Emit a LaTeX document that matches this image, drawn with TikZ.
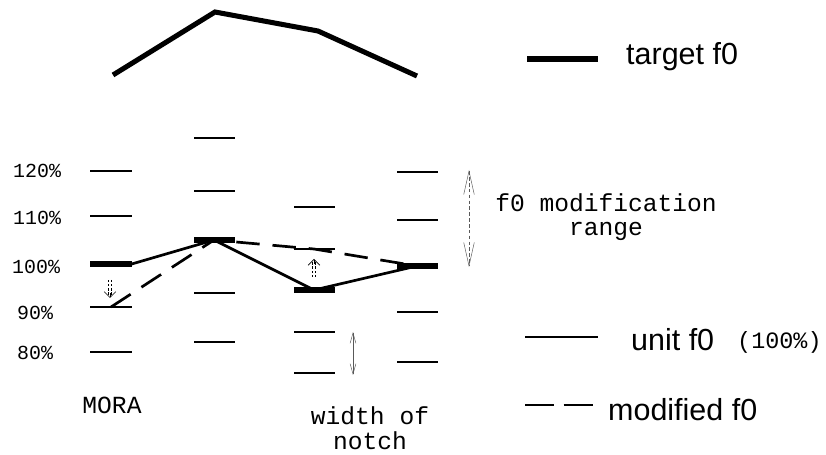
\documentclass[tikz,border=0pt]{standalone}
\usepackage{fontspec}
\setmainfont{Liberation Sans}
\setmonofont{Liberation Mono}
\usetikzlibrary{arrows.meta}

\begin{document}
\begin{tikzpicture}[x=0.03cm, y=-0.03cm,
    bar/.style={fill=black, inner sep=0pt, minimum width=1.23cm, minimum height=2.2pt},
    basebar/.style={bar, minimum height=4.6pt},
    target/.style={line width=4.3pt},
    unitline/.style={line width=2.3pt},
    modline/.style={line width=2.3pt, dash pattern=on 20pt off 11pt},
    pct/.style={font=\fontsize{17}{20}\ttfamily, anchor=west, inner sep=0pt},
    note/.style={font=\fontsize{21}{21}\ttfamily, align=center, inner sep=0pt},
    key/.style={font=\fontsize{26}{30}\selectfont, anchor=west, inner sep=0pt},
    span/.style={thin, gray!70!black, {Straight Barb[length=9pt,width=5pt]}-{Straight Barb[length=9pt,width=5pt]}},
    nudge/.style={line width=0.45pt, double, double distance=2.2pt, dash pattern=on 2pt off 1.5pt, shorten >=2pt},
    nudgetip/.style={line width=0.6pt, shorten <=11pt, -{Straight Barb[length=5pt,width=10pt]}}]
    \useasboundingbox (0,0) rectangle (826,455);

    % target contour
    \draw[target] (113,75) -- (215,12) -- (318,31) -- (417,76);

    % level bars of each mora: 120 110 100 90 80
    \foreach \c/\x/\ya/\yb/\yc/\yd/\ye in {1/111/171/216/264/307/352, 2/214/138/191/240/293/342,
        3/314/207/249/290/332/373, 4/417/172/220/266/312/362}{
        \node[bar] (m\c-120) at (\x,\ya) {};
        \node[bar] (m\c-110) at (\x,\yb) {};
        \node[basebar] (m\c-100) at (\x,\yc) {};
        \node[bar] (m\c-90) at (\x,\yd) {};
        \node[bar] (m\c-80) at (\x,\ye) {};
    }

    % unit and modified contours
    \draw[unitline] (m1-100.east) -- (m2-100.center) -- (m3-100.center) -- (m4-100.center);
    \draw[modline] (m1-90.center) -- (m2-100.center) -- (m3-110.center) -- (m4-100.center);

    % percent scale
    \node[pct] (p120) at (13,171) {120\%};
    \node[pct] (p110) at (13,218) {110\%};
    \node[pct] (p100) at (12,267) {100\%};
    \node[pct] (p90) at (17,313) {90\%};
    \node[pct] (p80) at (17,353) {80\%};

    % small shift arrows
    \coordinate (d1) at (110,280);
    \coordinate (d2) at (110,298);
    \draw[nudge] (d1) -- (d2);
    \draw[nudgetip] (d1) -- (d2);
    \coordinate (u1) at (314,277);
    \coordinate (u2) at (314,259);
    \draw[nudge] (u1) -- (u2);
    \draw[nudgetip] (u1) -- (u2);

    % modification range
    \coordinate (rtop) at (469,170);
    \coordinate (rbot) at (469,267);
    \draw[span, densely dashed, {Straight Barb[length=20pt,width=9pt]}-{Straight Barb[length=20pt,width=9pt]}] (rtop) -- (rbot);
    \node[note] (range) at (606,217) {f0 modification\\range};

    % notch width
    \coordinate (ntop) at (353,332);
    \coordinate (nbot) at (353,375);
    \draw[span] (ntop) -- (nbot);

    \node[note] (mora) at (112,405) {MORA};
    \node[note] (notch) at (370,428) {width of\\notch};

    % legend
    \coordinate (k1a) at (527,59);
    \coordinate (k1b) at (598,59);
    \draw[target] (k1a) -- (k1b);
    \node[key] (ktarget) at (626,57) {target f0};

    \coordinate (k2a) at (525,337);
    \coordinate (k2b) at (598,337);
    \draw[line width=1.8pt] (k2a) -- (k2b);
    \node[key] (kunit) at (631,340) {unit f0};
    \node[note, anchor=west, font=\fontsize{20}{24}\ttfamily] (kpct) at (737,342) {(100\%)};

    \coordinate (k3a) at (525,405);
    \coordinate (k3b) at (597,405);
    \draw[line width=1.8pt, dash pattern=on 25pt off 8pt] (k3a) -- (k3b);
    \node[key] (kmod) at (608,410) {modified f0};
\end{tikzpicture}
\end{document}
